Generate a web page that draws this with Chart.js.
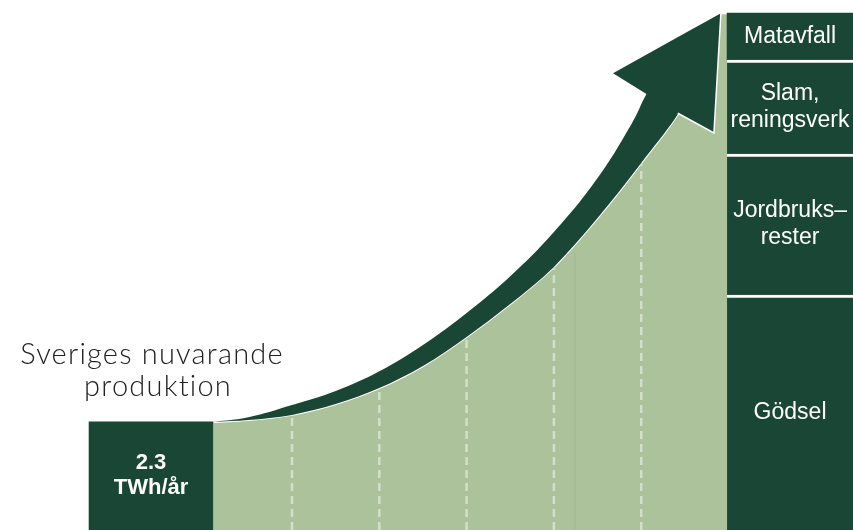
<!DOCTYPE html>
<html><head><meta charset="utf-8">
<script src="https://cdn.jsdelivr.net/npm/chart.js@4.4.1/dist/chart.umd.min.js"></script>
<style>html,body{margin:0;padding:0;background:#fff;overflow:hidden}</style>
</head><body>
<canvas id="c" width="853" height="530"></canvas>
<script>
// x = step along the growth path (dashed guides at 1..5), y = TWh/år
const currentValue = 2.3;
const currentX = -0.615;
const currentLabel = ['2.3', 'TWh/år'];
const noteLines = ['Sveriges nuvarande', 'produktion'];

// light-green growth area (top edge)
const areaX = [0.1, 0.5, 1, 1.5, 2, 2.5, 3, 3.5, 4, 4.5, 5, 5.5, 5.85, 5.92, 6.0];
const areaY = [2.30, 2.34, 2.45, 2.68, 3.02, 3.49, 4.11, 4.81, 5.60, 6.64, 7.81, 9.09, 10.43, 11.0, 11.0];

// upper edge of the arrow shaft
const shaftX = [0.1, 0.5, 1, 1.5, 2, 2.5, 3, 3.5, 4, 4.5, 4.9, 5.06, 5.42];
const shaftY = [2.30, 2.40, 2.66, 2.96, 3.38, 3.94, 4.62, 5.40, 6.34, 7.49, 8.68, 9.28, 10.40];

// arrow head outline (upper and lower edges)
const headTopX = [4.677, 5.913];
const headTopY = [9.72, 11.0];
const headBottomX = [4.677, 5.06, 5.42, 5.833, 5.913];
const headBottomY = [9.72, 9.28, 8.87, 8.45, 11.0];

// dashed guides
const gridX = [1, 2, 3, 4, 5];
const gridTop = [2.45, 3.02, 4.11, 5.60, 7.81];
const faintX = [4.24];
const faintTop = [5.9];

// potential by source (stacked, bottom to top)
const sourceX = 6.705;
const sources = ['Gödsel', 'Jordbruksrester', 'Slam, reningsverk', 'Matavfall'];
const sourceLabels = [['Gödsel'], ['Jordbruks–', 'rester'], ['Slam,', 'reningsverk'], ['Matavfall']];
const sourceValues = [5, 3, 2, 1];

const DARK = '#1a4735';
const LIGHT = '#abc29b';
const DASH = '#d3dfcb';

const pts = (xs, ys) => xs.map((x, i) => ({ x: x, y: ys[i] }));

const datasets = [];
datasets.push({
  type: 'line', label: 'Potential', data: pts(areaX, areaY),
  fill: 'origin', backgroundColor: LIGHT, borderColor: '#ffffff', borderWidth: 2,
  pointRadius: 0, cubicInterpolationMode: 'monotone', order: 10
});
const areaIdx = 0;
gridX.forEach((x, i) => datasets.push({
  type: 'line', label: 'guide' + i, data: [{ x: x, y: 0 }, { x: x, y: gridTop[i] }],
  borderColor: DASH, borderWidth: 2.5, borderDash: [8, 5], pointRadius: 0, fill: false, order: 9
}));
faintX.forEach((x, i) => datasets.push({
  type: 'line', label: 'faint' + i, data: [{ x: x, y: 0 }, { x: x, y: faintTop[i] }],
  borderColor: '#a2b993', borderWidth: 1, pointRadius: 0, fill: false, order: 9
}));
datasets.push({
  type: 'line', label: 'Arrow', data: pts(shaftX, shaftY),
  fill: { target: areaIdx }, backgroundColor: DARK, borderWidth: 0, borderColor: 'rgba(0,0,0,0)',
  pointRadius: 0, tension: 0.4, order: 8
});
const headBottomIdx = datasets.length;
datasets.push({
  type: 'line', label: 'Arrow head edge', data: pts(headBottomX, headBottomY),
  fill: false, borderWidth: 1.5, tension: 0, pointRadius: 0,
  borderColor: '#ffffff',
  segment: { borderColor: c => c.p0DataIndex >= 2 ? '#ffffff' : 'rgba(0,0,0,0)' },
  order: 6
});
datasets.push({
  type: 'line', label: 'Arrow head', data: pts(headTopX, headTopY),
  fill: { target: headBottomIdx }, backgroundColor: DARK, borderWidth: 0, borderColor: 'rgba(0,0,0,0)',
  tension: 0, pointRadius: 0, order: 7
});
const currentIdx = datasets.length;
datasets.push({
  type: 'bar', label: 'Nuvarande produktion', data: [{ x: currentX, y: currentValue }],
  backgroundColor: DARK, barThickness: 124, grouped: false, borderWidth: 0, order: 5
});
const sourceStart = datasets.length;
let acc = 0;
sources.forEach((s, i) => {
  const lo = acc; acc += sourceValues[i];
  datasets.push({
    type: 'bar', label: s, data: [{ x: sourceX, y: [lo, acc] }],
    backgroundColor: DARK, borderColor: '#ffffff',
    borderWidth: i < sources.length - 1 ? { top: 3, right: 0, bottom: 0, left: 0 } : 0,
    borderSkipped: false, barThickness: 126, grouped: false, order: 5
  });
});

const textPlugin = {
  id: 'texts',
  afterDatasetsDraw(chart) {
    const ctx = chart.ctx;
    ctx.save();
    ctx.textAlign = 'center';
    ctx.textBaseline = 'middle';
    const bar = chart.getDatasetMeta(currentIdx).data[0];
    ctx.fillStyle = '#ffffff';
    ctx.font = 'bold 22px "Liberation Sans", Arial, sans-serif';
    currentLabel.forEach((t, i) => ctx.fillText(t, bar.x, bar.y + 41 + i * 25));
    ctx.fillStyle = '#222222';
    ctx.font = '300 29px Lato, "Open Sans", sans-serif';
    try { ctx.letterSpacing = '1.2px'; } catch (e) {}
    noteLines.forEach((t, i) => ctx.fillText(t, bar.x + 1 + i * 6, bar.y - 67 + i * 32));
    try { ctx.letterSpacing = '0px'; } catch (e) {}
    ctx.fillStyle = '#ffffff';
    ctx.font = '23px "Liberation Sans", Arial, sans-serif';
    sourceLabels.forEach((lines, k) => {
      const el = chart.getDatasetMeta(sourceStart + k).data[0];
      const cy = (el.y + el.base) / 2;
      const h = 27;
      lines.forEach((t, j) => ctx.fillText(t, el.x, cy + (j - (lines.length - 1) / 2) * h));
    });
    ctx.restore();
  }
};

new Chart(document.getElementById('c'), {
  type: 'line',
  data: { datasets: datasets },
  options: {
    responsive: false, animation: false,
    layout: { padding: 0 },
    plugins: { legend: { display: false }, tooltip: { enabled: false } },
    elements: { point: { radius: 0 } },
    scales: {
      x: { type: 'linear', min: -2.345, max: 7.426, display: false, offset: false },
      y: { type: 'linear', min: 0, max: 11.28, display: false }
    }
  },
  plugins: [textPlugin]
});
</script>
</body></html>
